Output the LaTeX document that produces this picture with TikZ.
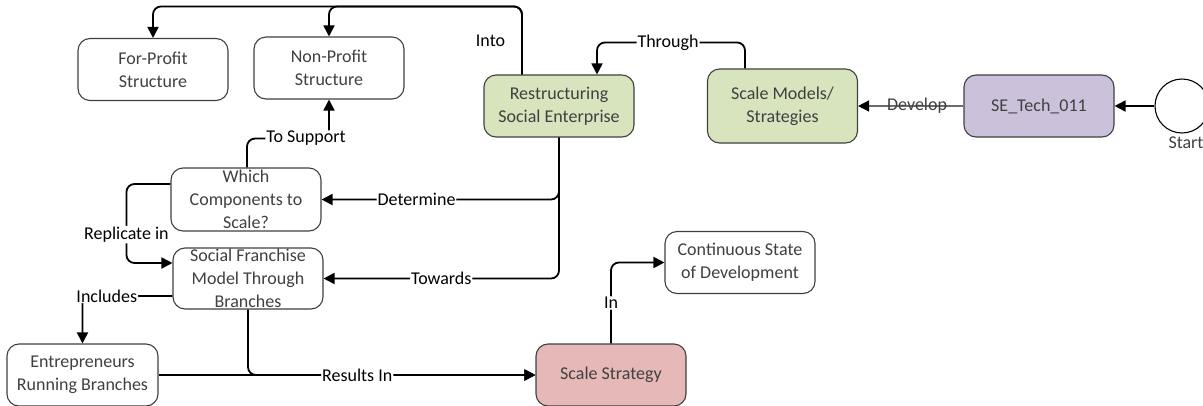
\documentclass[tikz,border=0pt]{standalone}
\usepackage{fontspec}
\setmainfont{Carlito}
\usetikzlibrary{arrows.meta,positioning}
\definecolor{sgreen}{HTML}{D7E4BD}
\definecolor{spurple}{HTML}{CCC1DA}
\definecolor{spink}{HTML}{E6B9B8}
\definecolor{sedge}{HTML}{404040}
\def\dflow{\draw[flow]}

\begin{document}
\begin{tikzpicture}[x=1pt,y=-1pt,
    box/.style={draw=sedge,line width=1.1pt,rounded corners=12pt,fill=white,text=sedge,align=center,
      minimum width=150pt,minimum height=62pt,inner sep=1pt,font=\fontsize{18}{23}\selectfont},
    flow/.style={line width=1.8pt,rounded corners=8pt,-{Triangle[length=11pt,width=11pt]}},
    lbl/.style={fill=white,inner sep=1pt,text=black,font=\fontsize{18}{23}\selectfont}]
\useasboundingbox (0,0) rectangle (1203,405);

\node[box] (forp) at (153,69.5) {For-Profit\\Structure};
\node[box] (nonp) at (329,68) {Non-Profit\\Structure};
\node[box,fill=sgreen] (restr) at (559,106) {Restructuring\\Social Enterprise};
\node[box,fill=sgreen,minimum height=74pt] (models) at (782.5,106) {Scale Models/\\Strategies};
\node[box,fill=spurple] (tech) at (1039,106) {SE\_Tech\_011};
\node[circle,draw,line width=1.1pt,minimum size=54pt,inner sep=0pt,
  label={[lbl,fill=none,text=sedge,xshift=4pt,label distance=2pt]below:Start}] (start) at (1182,106) {};
\node[box,minimum height=63pt] (which) at (246,199.5) {Which\\Components to\\Scale?};
\node[box,minimum height=61pt] (franch) at (248,278.5) {Social Franchise\\Model Through\\Branches};
\node[box,minimum width=151pt] (entre) at (82.5,375) {Entrepreneurs\\Running Branches};
\node[box,fill=spink] (strat) at (611,375) {Scale Strategy};
\node[box] (cont) at (740,262.5) {Continuous State\\of Development};

\dflow (start) -- (tech);
\draw[flow,draw=gray!85!black,line width=1.4pt,-{Triangle[length=11pt,width=11pt,color=black]}]
  (tech) -- node[lbl,fill=none,text=sedge,pos=0.44] {Develop} (models);
\dflow ([xshift=-37.5pt]models.north) -- ++(0,-26) -| node[lbl,pos=0.26] {Through} ([xshift=38pt]restr.north);
\dflow ([xshift=-37pt]restr.north) -- node[lbl,left=15pt] {Into} ++(0,-68) -| (forp.north);
\dflow ([xshift=-37pt]restr.north) -- ++(0,-68) -| (nonp.north);
\dflow (restr.south) |- node[lbl,pos=0.8] {Determine} (which);
\dflow (restr.south) |- node[lbl,pos=0.75] {Towards} (franch);
\dflow ([xshift=1pt]which.north) |- node[lbl,pos=0.86] {To Support} ([yshift=-39pt]nonp.south) -- (nonp.south);
\dflow ([yshift=15.5pt]which.west) -- ++(-44,0) |- node[lbl,pos=0.32] {Replicate in} ([yshift=15.5pt]franch.west);
\dflow ([yshift=-17.5pt]franch.west) -| node[lbl,pos=0.365] {Includes} (entre.north);
\dflow (entre) -- (strat);
\dflow (franch.south) |- node[lbl,pos=0.69] {Results In} (strat);
\dflow (strat.north) |- node[lbl,pos=0.25] {In} (cont);
\end{tikzpicture}
\end{document}
